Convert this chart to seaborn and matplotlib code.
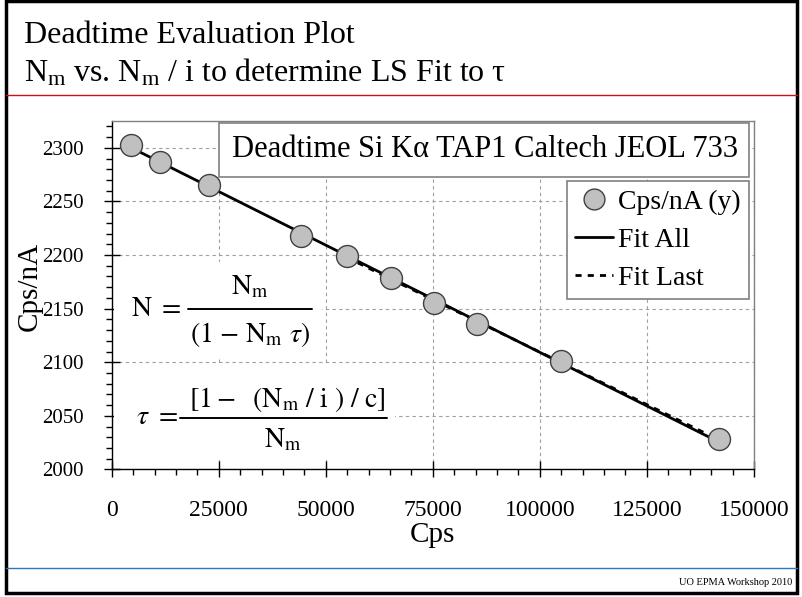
import numpy as np
import pandas as pd
import matplotlib
matplotlib.use("Agg")
import matplotlib.pyplot as plt
from matplotlib.lines import Line2D
from matplotlib.patches import Rectangle
from matplotlib.ticker import MultipleLocator
import seaborn as sns

# Measured count rates (Cps) and beam-normalised intensities (Cps/nA)
cps = [4437, 11210, 22650, 44280, 54880, 65230, 75270, 85380, 105000, 141830]
cps_per_na = [2302.8, 2287.0, 2265.5, 2218.1, 2199.4, 2179.0, 2155.3, 2135.8, 2101.0, 2028.1]
n_last = 6  # number of highest-rate points used for the "Fit Last" regression

x_ticks = [0, 25000, 50000, 75000, 100000, 125000, 150000]
y_ticks = [2000, 2050, 2100, 2150, 2200, 2250, 2300]

sns.set_style("white")
plt.rcParams["font.family"] = ["Liberation Serif", "DejaVu Serif"]
plt.rcParams["mathtext.fontset"] = "custom"
plt.rcParams["mathtext.rm"] = "Liberation Serif"
plt.rcParams["mathtext.it"] = "Liberation Serif:italic"
for key in ("text.color", "axes.labelcolor", "xtick.color", "ytick.color"):
    plt.rcParams[key] = "black"

df = pd.DataFrame({"Cps": cps, "Cps/nA": cps_per_na})

# least-squares straight lines through all points and through the last points
coef_all = np.polyfit(df["Cps"], df["Cps/nA"], 1)
last = df.iloc[-n_last:]
coef_last = np.polyfit(last["Cps"], last["Cps/nA"], 1)
fit_all = pd.DataFrame({"Cps": [df["Cps"].min(), df["Cps"].max()]})
fit_all["y"] = np.polyval(coef_all, fit_all["Cps"])
fit_last = pd.DataFrame({"Cps": [last["Cps"].min(), last["Cps"].max()]})
fit_last["y"] = np.polyval(coef_last, fit_last["Cps"])

fig = plt.figure(figsize=(8.03, 5.97), dpi=100)
ax = fig.add_axes([0.1391, 0.2136, 0.7998, 0.5837])

sns.lineplot(data=fit_all, x="Cps", y="y", ax=ax, color="black", lw=2.0,
             zorder=3, estimator=None, sort=True)
sns.lineplot(data=fit_last, x="Cps", y="y", ax=ax, color="black", lw=2.0,
             ls=(0, (2.2, 2.2)), zorder=3, estimator=None, sort=True)
sns.scatterplot(data=df, x="Cps", y="Cps/nA", ax=ax, s=250, color="#c0c0c0",
                edgecolor="#404040", linewidth=1.0, zorder=4)

ax.set_xlim(0, 150000)
ax.set_ylim(2000, 2325)
ax.set_xticks(x_ticks)
ax.set_yticks(y_ticks)
ax.set_xticklabels([str(v) for v in x_ticks])
ax.set_yticklabels([str(v) for v in y_ticks])
ax.xaxis.set_minor_locator(MultipleLocator(5000))
ax.yaxis.set_minor_locator(MultipleLocator(10))

ax.tick_params(axis="both", which="both", bottom=True, left=True, top=False, right=False)
ax.tick_params(axis="x", which="major", direction="inout", length=12, width=1,
               color="black", labelsize=17, pad=16)
ax.tick_params(axis="y", which="major", direction="inout", length=12, width=1,
               color="black", labelsize=15, pad=14)
ax.tick_params(which="minor", direction="out", length=4.3, width=1, color="black")

ax.grid(True, which="major", color="#a0a0a0", ls=(0, (3, 3)), lw=0.8)
ax.set_axisbelow(True)
for side in ("left", "bottom"):
    ax.spines[side].set_color("black")
    ax.spines[side].set_linewidth(1.0)
for side in ("top", "right"):
    ax.spines[side].set_color("#808080")
    ax.spines[side].set_linewidth(1.0)

ax.set_xlabel("Cps", fontsize=21)
ax.set_ylabel("Cps/nA", fontsize=21)
ax.xaxis.set_label_coords(0.4987, -0.15)
ax.yaxis.set_label_coords(-0.108, 0.524)

# chart caption box
ax.add_patch(Rectangle((0.1671, 0.840), 0.8251, 0.1551, transform=ax.transAxes,
                       facecolor="white", edgecolor="#808080", lw=1.2, zorder=5))
ax.text(0.5817, 0.9177, "Deadtime Si K\u03b1 TAP1 Caltech JEOL 733",
        transform=ax.transAxes, ha="center", va="center", fontsize=22, zorder=6)

# legend
handles = [
    Line2D([], [], ls="none", marker="o", markersize=15, markerfacecolor="#c0c0c0",
           markeredgecolor="#404040", markeredgewidth=1.0),
    Line2D([], [], color="black", lw=2.0),
    Line2D([], [], color="black", lw=2.0, ls=(0, (2.2, 2.2))),
]
leg = ax.legend(handles, ["Cps/nA (y)", "Fit All", "Fit Last"],
                loc="upper right", bbox_to_anchor=(0.9927, 0.8278),
                borderaxespad=0, fontsize=20, frameon=True, fancybox=False,
                framealpha=1, edgecolor="#808080", handlelength=1.35,
                handletextpad=0.2, labelspacing=0.45, borderpad=0.3)
leg.get_frame().set_linewidth(1.2)
leg.set_zorder(6)


def fraction(lhs, num, den, lhs_x, bar_x0, bar_x1, bar_y, num_xy, den_xy, box):
    """Draw 'lhs = num / den' as a stacked fraction on a white panel (axes coords)."""
    bx0, by0, bx1, by1 = box
    ax.add_patch(Rectangle((bx0, by0), bx1 - bx0, by1 - by0, transform=ax.transAxes,
                           facecolor="white", edgecolor="none", zorder=5))
    kw = dict(transform=ax.transAxes, fontsize=20, math_fontfamily="stix", zorder=6)
    ax.text(lhs_x, bar_y, lhs, ha="left", va="center", **kw)
    ax.text(num_xy[0], num_xy[1], num, ha="center", va="center", **kw)
    ax.text(den_xy[0], den_xy[1], den, ha="center", va="center", **kw)
    ax.add_artist(Line2D([bar_x0, bar_x1], [bar_y, bar_y], transform=ax.transAxes,
                         color="black", lw=1.4, zorder=6))


# dead-time relations
fraction(r"$\mathrm{N}\ =$", r"$\mathrm{N_m}$", r"$(1\ \mathrm{-}\ \mathrm{N_m}\ \tau)$",
         0.030, 0.1188, 0.3118, 0.4605, (0.2153, 0.5240), (0.2153, 0.3860),
         (0.003, 0.3228, 0.3274, 0.5954))
fraction(r"$\tau\ =$", r"$[1 -\ \ (\mathrm{N_m}\ /\ \mathrm{i}\ )\ /\ \mathrm{c}]$",
         r"$\mathrm{N_m}$",
         0.0378, 0.1064, 0.4286, 0.1478, (0.2731, 0.2000), (0.2667, 0.0850),
         (0.003, 0.027, 0.441, 0.2999))

# slide heading, rules, footer and border
fig.text(0.0299, 0.9285, "Deadtime Evaluation Plot", fontsize=23, va="baseline")
fig.text(0.0299, 0.8643,
         "N$_\\mathrm{m}$ vs. N$_\\mathrm{m}$ / i to determine LS Fit to \u03c4",
         fontsize=23, va="baseline")
fig.add_artist(Line2D([0.007, 0.993], [0.8409, 0.8409], transform=fig.transFigure,
                      color="#d01010", lw=1.0))
fig.add_artist(Line2D([0.007, 0.993], [0.0486, 0.0486], transform=fig.transFigure,
                      color="#2a78c0", lw=1.0))
fig.text(0.986, 0.0235, "UO EPMA Workshop 2010", fontsize=7.5, ha="right", va="center")
fig.add_artist(Rectangle((0.0075, 0.0075), 0.985, 0.99, transform=fig.transFigure,
                         fill=False, edgecolor="black", lw=2.5))

fig.savefig("out.png", dpi=100)
